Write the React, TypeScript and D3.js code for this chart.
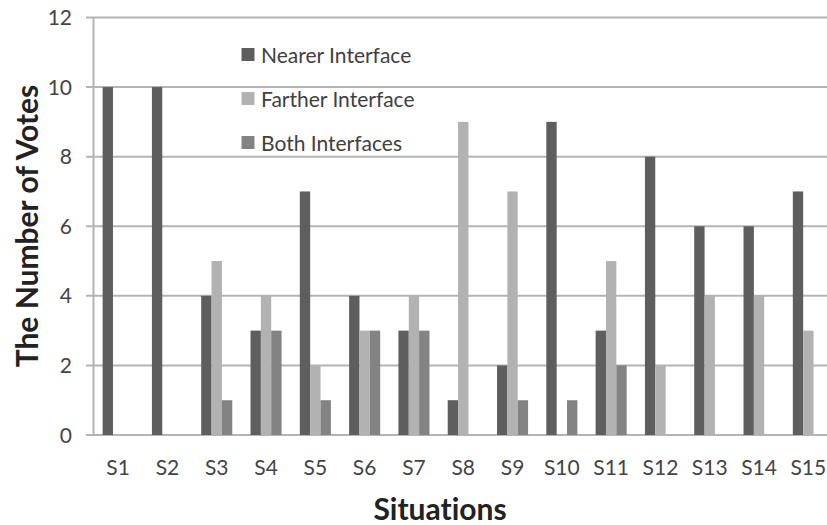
import React from "react";
import * as d3 from "d3";

const categories = ["S1","S2","S3","S4","S5","S6","S7","S8","S9","S10","S11","S12","S13","S14","S15"];
const seriesNames = ["Nearer Interface", "Farther Interface", "Both Interfaces"];
const nearer = [10,10,4,3,7,4,3,1,2,9,3,8,6,6,7];
const farther = [0,0,5,4,2,3,4,9,7,0,5,2,4,4,3];
const both = [0,0,1,3,1,3,3,0,1,1,2,0,0,0,0];
const yTicks = [0,2,4,6,8,10,12];
const colors = ["#5e5e5e", "#b2b2b2", "#838383"];

const W = 827, H = 525;
const left = 93.5, right = 833, top = 17.5, bottom = 435;
const FONT = "Lato, 'Open Sans', sans-serif";

export default function App() {
  const x = d3.scaleBand<string>().domain(categories).range([left, right]).paddingInner(0.37).paddingOuter(0.185);
  const inner = d3.scaleBand<string>().domain(seriesNames).range([0, x.bandwidth()]);
  const y = d3.scaleLinear().domain([0, 12]).range([bottom, top]);
  const series = [nearer, farther, both];

  return (
    <svg width={W} height={H} style={{ position: "absolute", left: 0, top: 0, background: "#fff", fontVariantLigatures: "none" }}>
      {yTicks.map(t => (
        <g key={t}>
          <line x1={86} x2={W} y1={y(t)} y2={y(t)} stroke="#b4b4b4" strokeWidth={2} />
          <text x={72} y={y(t)} dy="0.36em" textAnchor="end" fontFamily={FONT} fontSize={21} fill="#444">{t}</text>
        </g>
      ))}
      <line x1={left} x2={left} y1={y(12)} y2={y(0)} stroke="#b4b4b4" strokeWidth={2} />
      {series.map((vals, si) =>
        vals.map((v, i) => v > 0 ? (
          <rect key={`${si}-${i}`}
            x={(x(categories[i]) as number) + (inner(seriesNames[si]) as number)}
            width={inner.bandwidth()}
            y={y(v)} height={y(0) - y(v)}
            fill={colors[si]} />
        ) : null)
      )}
      {categories.map(c => (
        <text key={c} x={(x(c) as number) + x.bandwidth() / 2} y={467} dy="0.36em" textAnchor="middle" fontFamily={FONT} fontSize={21} fill="#444">{c}</text>
      ))}
      {seriesNames.map((s, i) => (
        <g key={s}>
          <rect x={241.5} y={48 + i * 44} width={13} height={13} fill={colors[i]} />
          <text x={261} y={55 + i * 44} dy="0.36em" fontFamily={FONT} fontSize={21} fill="#404040">{s}</text>
        </g>
      ))}
      <text transform={`translate(27,226) rotate(-90)`} textAnchor="middle" dy="0.36em" fontFamily={FONT} fontWeight="bold" fontSize={30} fill="#222">The Number of Votes</text>
      <text x={440} y={509} textAnchor="middle" dy="0.36em" fontFamily={FONT} fontWeight="bold" fontSize={30} fill="#222">Situations</text>
    </svg>
  );
}
